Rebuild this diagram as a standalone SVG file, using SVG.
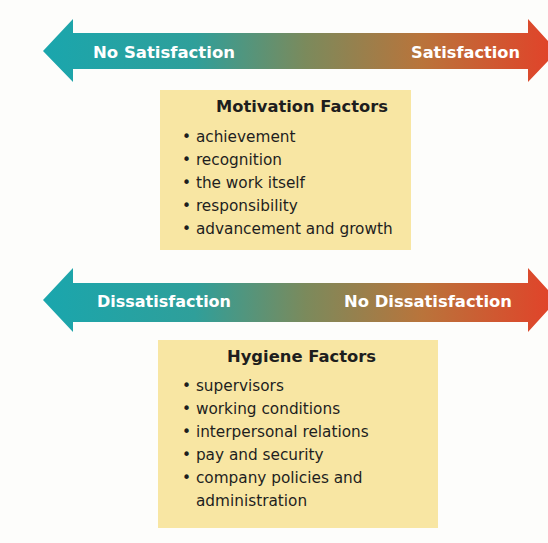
<svg xmlns="http://www.w3.org/2000/svg" width="548" height="543" viewBox="0 0 548 543">
<defs>
<linearGradient id="g" x1="43" y1="0" x2="548" y2="0" gradientUnits="userSpaceOnUse">
<stop offset="0" stop-color="#1aa6ad"/>
<stop offset="0.3" stop-color="#2f9f9a"/>
<stop offset="0.52" stop-color="#7b8a5c"/>
<stop offset="0.75" stop-color="#b9743b"/>
<stop offset="1" stop-color="#e0442a"/>
</linearGradient>
<style>
.box{fill:#f8e6a3;}
.lbl{font-family:"DejaVu Sans",Verdana,sans-serif;font-weight:bold;font-size:16px;fill:#ffffff;}
.ttl{font-family:"DejaVu Sans",Verdana,sans-serif;font-weight:bold;font-size:16.5px;fill:#1e1e1e;}
.itm{font-family:"DejaVu Sans",Verdana,sans-serif;font-size:15.3px;fill:#1e1e1e;}
</style>
</defs>
<rect width="548" height="543" fill="#fdfdfb"/>
<g id="connectors">
<path id="arrow1" d="M43,51 L73,19 L73,33 L528,33 L528,19 L548,41 L548,61 L528,82 L528,69 L73,69 L73,82 Z" fill="url(#g)"/>
<path id="arrow2" d="M43,300 L73,268 L73,283 L528,283 L528,268 L548,290 L548,310 L528,332 L528,322 L73,322 L73,332 Z" fill="url(#g)"/>
</g>
<g id="label-no-satisfaction"><text class="lbl" x="93" y="58" textLength="142" lengthAdjust="spacingAndGlyphs">No Satisfaction</text></g>
<g id="label-satisfaction"><text class="lbl" x="411" y="58" textLength="109" lengthAdjust="spacingAndGlyphs">Satisfaction</text></g>
<g id="label-dissatisfaction"><text class="lbl" x="97" y="307" textLength="134" lengthAdjust="spacingAndGlyphs">Dissatisfaction</text></g>
<g id="label-no-dissatisfaction"><text class="lbl" x="344" y="307" textLength="168" lengthAdjust="spacingAndGlyphs">No Dissatisfaction</text></g>
<g id="motivation">
<rect class="box" x="160" y="90" width="251" height="160"/>
<text class="ttl" x="216" y="112" textLength="172" lengthAdjust="spacingAndGlyphs">Motivation Factors</text>
<text class="itm" x="182" y="142">• achievement</text>
<text class="itm" x="182" y="165">• recognition</text>
<text class="itm" x="182" y="188">• the work itself</text>
<text class="itm" x="182" y="211">• responsibility</text>
<text class="itm" x="182" y="234">• advancement and growth</text>
</g>
<g id="hygiene">
<rect class="box" x="158" y="340" width="280" height="188"/>
<text class="ttl" x="227" y="362" textLength="149" lengthAdjust="spacingAndGlyphs">Hygiene Factors</text>
<text class="itm" x="182" y="391">• supervisors</text>
<text class="itm" x="182" y="414">• working conditions</text>
<text class="itm" x="182" y="437">• interpersonal relations</text>
<text class="itm" x="182" y="460">• pay and security</text>
<text class="itm" x="182" y="483">• company policies and</text>
<text class="itm" x="196" y="506">administration</text>
</g>
</svg>
